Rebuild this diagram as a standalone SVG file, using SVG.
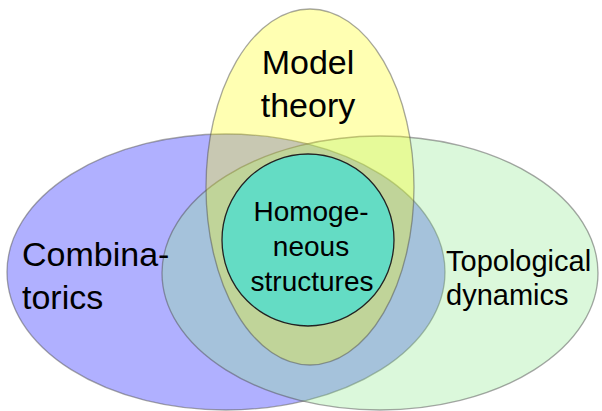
<svg xmlns="http://www.w3.org/2000/svg" width="602" height="411" viewBox="0 0 602 411">
<style>
.set{stroke:#505050;stroke-opacity:0.5;stroke-width:1.3}
.lbl{font-family:"Liberation Sans","DejaVu Sans",sans-serif;fill:#000}
</style>
<rect width="602" height="411" fill="#fff"/>
<g id="combinatorics">
<ellipse class="set" cx="226" cy="272" rx="219" ry="138" fill="#0000ff" fill-opacity="0.31"/>
</g>
<g id="topological-dynamics">
<ellipse class="set" cx="380" cy="273" rx="218" ry="137" fill="#90e990" fill-opacity="0.32"/>
</g>
<g id="model-theory">
<ellipse class="set" cx="310" cy="187" rx="104" ry="178" fill="#ffff00" fill-opacity="0.3"/>
</g>
<g id="homogeneous">
<circle cx="308" cy="240" r="86" fill="#64dcc4" stroke="#222" stroke-width="1.3"/>
</g>
<g id="labels">
<text class="lbl" x="22" y="266" font-size="34">Combina-</text>
<text class="lbl" x="22" y="309" font-size="34">torics</text>
<text class="lbl" x="308" y="74" font-size="34" text-anchor="middle">Model</text>
<text class="lbl" x="308" y="117" font-size="34" text-anchor="middle">theory</text>
<text class="lbl" x="311" y="221" font-size="28" text-anchor="middle">Homoge-</text>
<text class="lbl" x="311" y="256" font-size="28" text-anchor="middle">neous</text>
<text class="lbl" x="312" y="291" font-size="28" text-anchor="middle">structures</text>
<text class="lbl" x="446" y="271" font-size="29">Topological</text>
<text class="lbl" x="446" y="305" font-size="29">dynamics</text>
</g>
</svg>
